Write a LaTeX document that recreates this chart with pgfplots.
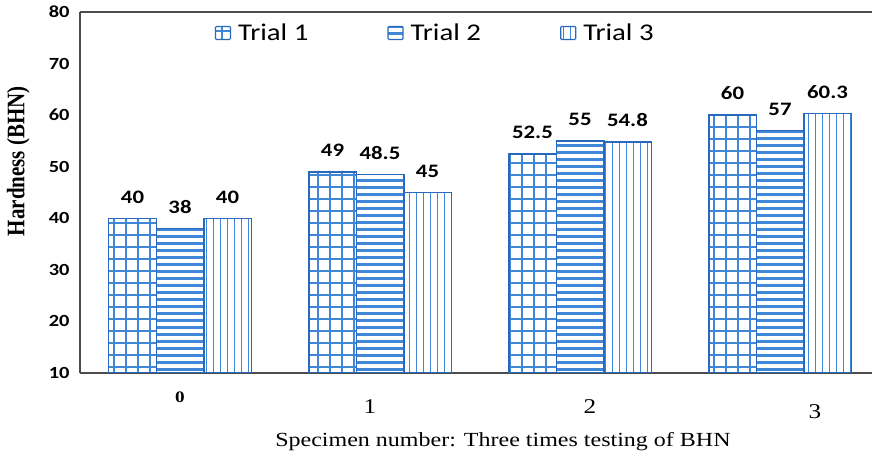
\documentclass[border=0pt]{standalone}
\usepackage{pgfplots}
\pgfplotsset{compat=1.18}
\usetikzlibrary{patterns}
\usepackage{fontspec}
\setmainfont[FakeStretch=1.2]{Liberation Serif}
\newfontfamily\serifns{Liberation Serif}
\newfontfamily\calfont[FakeStretch=1.2]{Carlito}
\definecolor{edge}{RGB}{40,105,190}
\definecolor{pat}{RGB}{65,135,215}
\pgfdeclarepatternformonly{hlines}{\pgfpoint{-1pt}{-1pt}}{\pgfpoint{8pt}{8pt}}{\pgfpoint{7pt}{7pt}}{%
  \pgfsetlinewidth{2.5pt}\pgfpathmoveto{\pgfpoint{-1pt}{3.5pt}}\pgfpathlineto{\pgfpoint{8pt}{3.5pt}}\pgfusepath{stroke}}
\pgfdeclarepatternformonly{vlines}{\pgfpoint{-1pt}{-1pt}}{\pgfpoint{8pt}{8pt}}{\pgfpoint{7pt}{7pt}}{%
  \pgfsetlinewidth{1.5pt}\pgfpathmoveto{\pgfpoint{3.5pt}{-1pt}}\pgfpathlineto{\pgfpoint{3.5pt}{8pt}}\pgfusepath{stroke}}
\pgfdeclarepatternformonly{gridp}{\pgfpoint{-1pt}{-1pt}}{\pgfpoint{13pt}{13pt}}{\pgfpoint{12pt}{12pt}}{%
  \pgfsetlinewidth{1.3pt}\pgfpathmoveto{\pgfpoint{6pt}{-1pt}}\pgfpathlineto{\pgfpoint{6pt}{13pt}}%
  \pgfpathmoveto{\pgfpoint{-1pt}{6pt}}\pgfpathlineto{\pgfpoint{13pt}{6pt}}\pgfusepath{stroke}}
\begin{document}
\begin{tikzpicture}
\useasboundingbox (-80pt,-84pt) rectangle (792pt,373pt);
\begin{axis}[
  at={(0pt,0pt)}, anchor=south west,
  scale only axis,
  width=792pt, height=361pt,
  xmin=-0.5, xmax=3.46,
  ymin=10, ymax=80,
  ytick={10,20,...,80},
  xtick={0,0.95,2.05,3.175},
  xticklabels={{\raisebox{11pt}{\bfseries\fontsize{16}{16}\selectfont 0}},1,2,{\raisebox{-5pt}{3}}},
  axis x line=box, axis y line=left,
  axis line style={-, draw=black!70, line width=1.6pt},
  major tick length=0pt,
  /pgf/number format/assume math mode=true,
  yticklabel style={font=\calfont\bfseries\fontsize{17}{17}\selectfont, xshift=-7pt},
  xticklabel style={font=\fontsize{21}{21}\selectfont, anchor=base, yshift=-41pt},
  ylabel={\scalebox{1}[1.2]{\serifns\bfseries\fontsize{21}{21}\selectfont Hardness (BHN)}},
  ylabel style={at={(axis description cs:-0.078,0.587)}, anchor=center},
  xlabel={Specimen number: Three times testing of BHN},
  xlabel style={font=\fontsize{20}{20}\selectfont, at={(axis description cs:0.534,0)}, anchor=base, yshift=-74pt},
  ybar=0pt, bar width=47.5pt,
  nodes near coords,
  nodes near coords style={font=\calfont\bfseries\fontsize{19}{19}\selectfont, black, yshift=11pt},
  legend columns=3,
  legend style={at={(0.170,0.942)}, anchor=west, draw=none, fill=none, inner sep=0pt,
    font=\calfont\fontsize{24}{24}\selectfont,
    nodes={inner sep=2pt},
    /tikz/every odd column/.append style={column sep=5pt},
    /tikz/every even column/.append style={column sep=77pt}},
  legend image code/.code={\draw[#1, line width=1.2pt, rounded corners=1pt] (0pt,-6.5pt) rectangle (15pt,6.5pt);},
]
\addplot[draw=edge, line width=1.5pt, pattern=gridp, pattern color=pat, bar shift=-47.5pt]
  coordinates {(0,40) (1,49) (2,52.5) (3,60)};
\addplot[draw=edge, line width=1.5pt, pattern=hlines, pattern color=pat, bar shift=0pt]
  coordinates {(0,38) (1,48.5) (2,55) (3,57)};
\addplot[draw=edge, line width=1.5pt, pattern=vlines, pattern color=pat, bar shift=47.5pt]
  coordinates {(0,40) (1,45) (2,54.8) (3,60.3)};
\legend{Trial 1, Trial 2, Trial 3}
\end{axis}
\end{tikzpicture}
\end{document}
